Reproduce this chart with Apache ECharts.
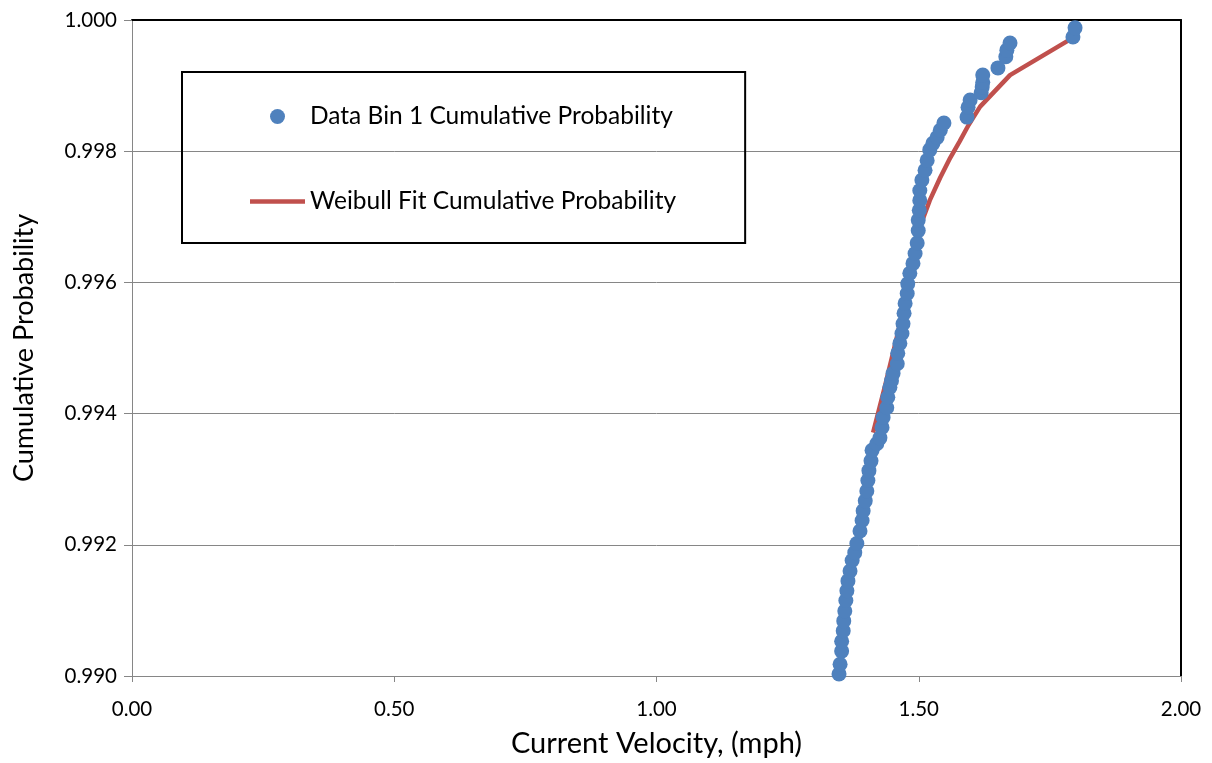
<!DOCTYPE html>
<html>
<head>
<meta charset="utf-8">
<script src="https://cdn.jsdelivr.net/npm/echarts@6/dist/echarts.min.js"></script>
<style>html,body{margin:0;padding:0;background:#fff}#c{width:1212px;height:763px}</style>
</head>
<body>
<div id="c"></div>
<script>
// Data Bin 1: current velocity (mph) and cumulative probability
const binVelocity = [1.348,1.350,1.353,1.353,1.356,1.357,1.359,1.361,1.363,1.365,1.369,1.373,1.378,1.382,1.388,1.392,1.394,1.398,1.401,1.403,1.405,1.409,1.411,1.420,1.426,1.430,1.432,1.439,1.441,1.445,1.448,1.451,1.459,1.460,1.464,1.468,1.470,1.472,1.474,1.478,1.479,1.483,1.489,1.493,1.497,1.499,1.499,1.501,1.502,1.502,1.506,1.512,1.516,1.521,1.527,1.535,1.541,1.548,1.592,1.594,1.598,1.619,1.621,1.622,1.622,1.651,1.666,1.668,1.674,1.794,1.798];
const binProb = [0.99003,0.99018,0.99038,0.99053,0.99069,0.99084,0.99099,0.99115,0.99130,0.99145,0.99160,0.99176,0.99188,0.99202,0.99221,0.99237,0.99252,0.99267,0.99282,0.99298,0.99313,0.99328,0.99344,0.99354,0.99363,0.99379,0.99394,0.99409,0.99425,0.99440,0.99450,0.99461,0.99476,0.99492,0.99507,0.99522,0.99537,0.99553,0.99568,0.99583,0.99598,0.99614,0.99629,0.99644,0.99660,0.99679,0.99695,0.99710,0.99725,0.99740,0.99756,0.99771,0.99786,0.99802,0.99812,0.99821,0.99832,0.99843,0.99852,0.99867,0.99878,0.99889,0.99898,0.99905,0.99916,0.99927,0.99944,0.99954,0.99965,0.99974,0.99988];
// Weibull fit curve
const fitVelocity = [1.413,1.436,1.459,1.483,1.502,1.521,1.541,1.560,1.578,1.595,1.617,1.674,1.792];
const fitProb = [0.99371,0.99443,0.99519,0.99603,0.99684,0.99725,0.99760,0.99790,0.99815,0.99840,0.99868,0.99916,0.99972];
const seriesNames = ['Data Bin 1 Cumulative Probability','Weibull Fit Cumulative Probability'];
const xTitle = 'Current Velocity, (mph)';
const yTitle = 'Cumulative Probability';

const FONT = 'Lato';
const chart = echarts.init(document.getElementById('c'), null, {renderer:'canvas'});
const axisGray = '#868686';
chart.setOption({
  animation:false,
  textStyle:{fontFamily:FONT},
  grid:{left:132,right:31,top:20,bottom:87,containLabel:false,outerBoundsMode:'none'},
  legend:{
    orient:'vertical', left:182, top:72,
    borderColor:'#000', borderWidth:2, padding:[32,69,29,68],
    itemGap:60, itemWidth:55, itemHeight:15, symbolKeepAspect:true,
    textStyle:{fontFamily:FONT,fontSize:24.5,color:'#000'},
    data:[{name:seriesNames[0],icon:'circle'},{name:seriesNames[1],icon:'path://M0 0H55V4.5H0Z'}]
  },
  xAxis:[{
    type:'value', min:0, max:2, interval:0.5,
    name:xTitle, nameLocation:'middle', nameGap:53,
    nameTextStyle:{fontFamily:FONT,fontSize:29,color:'#000'},
    axisLine:{show:true,onZero:false,lineStyle:{color:axisGray,width:1}},
    axisTick:{show:true,inside:false,length:6,lineStyle:{color:axisGray}},
    axisLabel:{margin:23,fontSize:20.5,color:'#000',fontFamily:FONT,formatter:v=>v.toFixed(2)},
    splitLine:{show:false}
  },{
    type:'value', position:'top', min:0, max:2,
    axisLine:{show:true,onZero:false,lineStyle:{color:'#000',width:2}},
    axisTick:{show:false}, axisLabel:{show:false}, splitLine:{show:false}
  }],
  yAxis:[{
    type:'value', min:0.990, max:1.000, interval:0.002,
    name:yTitle, nameLocation:'middle', nameGap:94, nameRotate:90,
    nameTextStyle:{fontFamily:FONT,fontSize:27,color:'#000'},
    axisLine:{show:true,onZero:false,lineStyle:{color:axisGray,width:1}},
    axisTick:{show:true,inside:false,length:8,lineStyle:{color:axisGray}},
    axisLabel:{margin:15,fontSize:20.5,color:'#000',fontFamily:FONT,formatter:v=>v.toFixed(3)},
    splitLine:{show:true,lineStyle:{color:axisGray,width:1}}
  },{
    type:'value', position:'right', min:0.990, max:1.000,
    axisLine:{show:true,onZero:false,lineStyle:{color:'#000',width:2}},
    axisTick:{show:false}, axisLabel:{show:false}, splitLine:{show:false}
  }],
  series:[{
    name:seriesNames[0], type:'scatter', z:3,
    symbol:'circle', symbolSize:15,
    itemStyle:{color:'#4F81BD',opacity:1},
    data:binVelocity.map((v,i)=>[v,binProb[i]])
  },{
    name:seriesNames[1], type:'line', z:2,
    symbol:'none', showSymbol:false,
    lineStyle:{color:'#C0504D',width:4.5},
    itemStyle:{color:'#C0504D'},
    data:fitVelocity.map((v,i)=>[v,fitProb[i]])
  }]
});
</script>
</body>
</html>
